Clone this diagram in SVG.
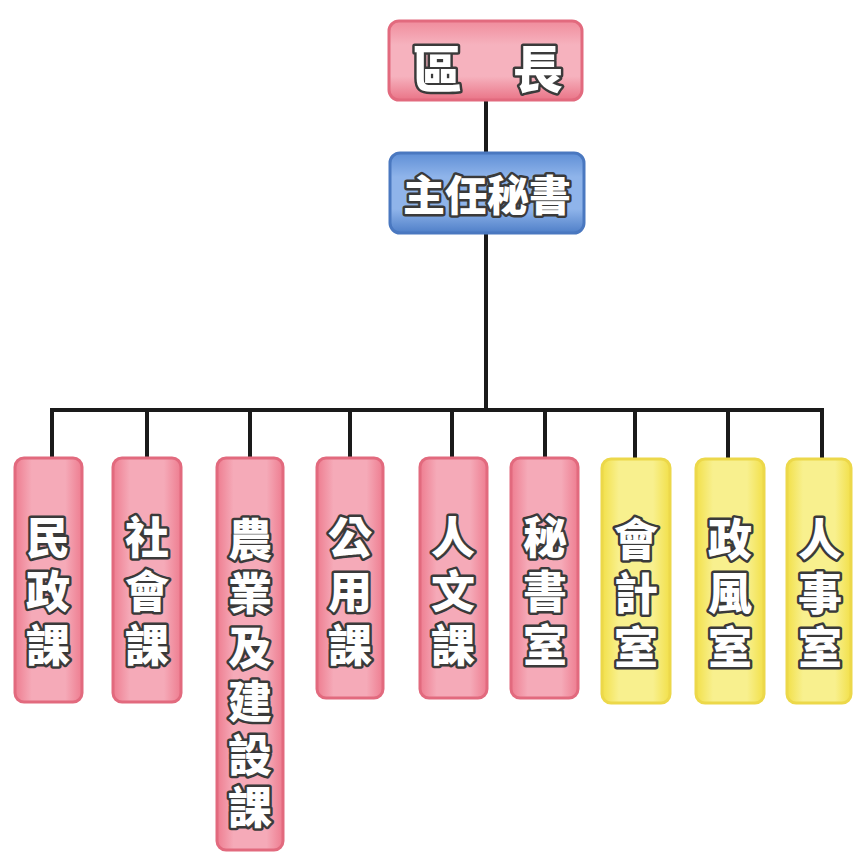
<svg xmlns="http://www.w3.org/2000/svg" width="853" height="854" viewBox="0 0 853 854">
<defs>
<linearGradient id="pink" x1="0" y1="0" x2="1" y2="0">
<stop offset="0" stop-color="#ee7d90"/><stop offset="0.25" stop-color="#f5aab8"/><stop offset="0.75" stop-color="#f5aab8"/><stop offset="1" stop-color="#ee7d90"/>
</linearGradient>
<linearGradient id="pinkH" x1="0" y1="0" x2="0" y2="1">
<stop offset="0" stop-color="#f08c9c"/><stop offset="0.3" stop-color="#f6b2be"/><stop offset="0.7" stop-color="#f6b2be"/><stop offset="1" stop-color="#ea7487"/>
</linearGradient>
<linearGradient id="yel" x1="0" y1="0" x2="1" y2="0">
<stop offset="0" stop-color="#f2e04a"/><stop offset="0.25" stop-color="#f8f08e"/><stop offset="0.75" stop-color="#f8f08e"/><stop offset="1" stop-color="#f2e04a"/>
</linearGradient>
<linearGradient id="blue" x1="0" y1="0" x2="0" y2="1">
<stop offset="0" stop-color="#5f8fd6"/><stop offset="0.3" stop-color="#8fb4ea"/><stop offset="0.7" stop-color="#8fb4ea"/><stop offset="1" stop-color="#4f7fc8"/>
</linearGradient>
<style>
.pk{fill:url(#pink);stroke:#e26a7e;stroke-width:3}
.yl{fill:url(#yel);stroke:#ecd84a;stroke-width:3}
.t{font-family:"Noto Sans CJK TC","Noto Sans CJK SC",sans-serif;font-weight:900;fill:#ffffff;stroke:#3a3a3a;stroke-width:5;stroke-linejoin:round;paint-order:stroke;text-anchor:middle;dominant-baseline:central;font-size:44px}
.c{stroke:#1a1a1a;stroke-width:4;fill:none}
</style>
</defs>
<g id="connectors">
<line class="c" x1="486" y1="100" x2="486" y2="153"/>
<line class="c" x1="486" y1="233" x2="486" y2="412"/>
<polyline class="c" points="52,460 52,410 822,410 822,460"/>
<line class="c" x1="147" y1="410" x2="147" y2="460"/>
<line class="c" x1="250" y1="410" x2="250" y2="460"/>
<line class="c" x1="350" y1="410" x2="350" y2="460"/>
<line class="c" x1="452" y1="410" x2="452" y2="460"/>
<line class="c" x1="545" y1="410" x2="545" y2="460"/>
<line class="c" x1="635" y1="410" x2="635" y2="460"/>
<line class="c" x1="728" y1="410" x2="728" y2="460"/>
</g>
<g id="n-head">
<rect x="389" y="21" width="193" height="79" rx="10" fill="url(#pinkH)" stroke="#e26a7e" stroke-width="3"/>
<text class="t" x="437" y="66" style="font-size:50px">區</text>
<text class="t" x="538" y="66" style="font-size:50px">長</text>
</g>
<g id="n-secretary">
<rect x="390" y="153" width="194" height="80" rx="10" fill="url(#blue)" stroke="#4a78c0" stroke-width="3"/>
<text class="t" x="487" y="192" style="font-size:42px">主任秘書</text>
</g>
<g id="n1">
<rect class="pk" x="15" y="458" width="67" height="244" rx="9"/>
<text class="t" x="48" y="535">民</text><text class="t" x="48" y="589">政</text><text class="t" x="48" y="643">課</text>
</g>
<g id="n2">
<rect class="pk" x="113" y="458" width="68" height="244" rx="9"/>
<text class="t" x="147" y="535">社</text><text class="t" x="147" y="589">會</text><text class="t" x="147" y="643">課</text>
</g>
<g id="n3">
<rect class="pk" x="217" y="458" width="66" height="392" rx="9"/>
<text class="t" x="250" y="537">農</text><text class="t" x="250" y="591">業</text><text class="t" x="250" y="645">及</text><text class="t" x="250" y="699">建</text><text class="t" x="250" y="753">設</text><text class="t" x="250" y="805">課</text>
</g>
<g id="n4">
<rect class="pk" x="317" y="458" width="66" height="240" rx="9"/>
<text class="t" x="350" y="535">公</text><text class="t" x="350" y="589">用</text><text class="t" x="350" y="643">課</text>
</g>
<g id="n5">
<rect class="pk" x="420" y="458" width="67" height="240" rx="9"/>
<text class="t" x="453" y="535">人</text><text class="t" x="453" y="589">文</text><text class="t" x="453" y="643">課</text>
</g>
<g id="n6">
<rect class="pk" x="511" y="458" width="67" height="240" rx="9"/>
<text class="t" x="545" y="535">秘</text><text class="t" x="545" y="589">書</text><text class="t" x="545" y="643">室</text>
</g>
<g id="n7">
<rect class="yl" x="602" y="459" width="68" height="244" rx="9"/>
<text class="t" x="636" y="537">會</text><text class="t" x="636" y="591">計</text><text class="t" x="636" y="645">室</text>
</g>
<g id="n8">
<rect class="yl" x="696" y="459" width="68" height="244" rx="9"/>
<text class="t" x="730" y="537">政</text><text class="t" x="730" y="591">風</text><text class="t" x="730" y="645">室</text>
</g>
<g id="n9">
<rect class="yl" x="787" y="459" width="64" height="244" rx="9"/>
<text class="t" x="820" y="537">人</text><text class="t" x="820" y="591">事</text><text class="t" x="820" y="645">室</text>
</g>
</svg>
